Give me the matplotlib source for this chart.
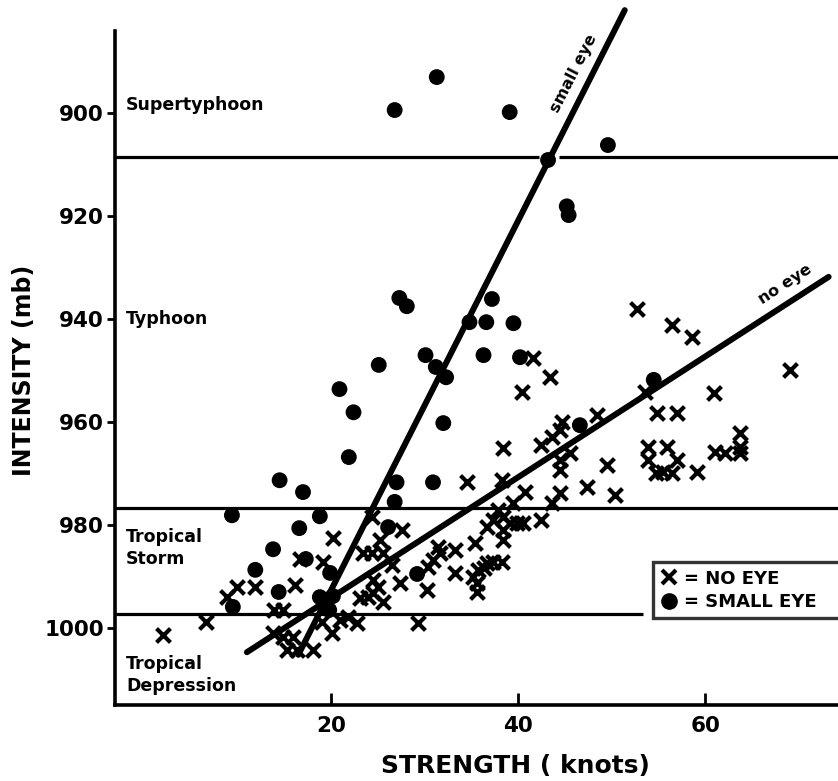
import matplotlib
matplotlib.use("Agg")
import matplotlib.pyplot as plt
from matplotlib.lines import Line2D

# ---------------- data ----------------
small_eye_x = [26.8, 31.3, 39.1, 49.6, 43.2, 45.2, 45.4,
               27.3, 28.1, 37.2, 34.8, 36.6, 39.5,
               30.1, 31.2, 32.3, 36.3, 40.2, 25.1,
               20.9, 22.4, 32.0, 21.9, 27.0, 30.9, 26.8,
               14.5, 17.0, 9.4, 18.8, 16.6, 13.8, 17.3,
               11.9, 19.9, 14.4, 9.5, 26.1, 29.2, 46.6,
               54.5, 18.8, 19.8, 20.2]
small_eye_y = [899.4, 893.0, 899.8, 906.2, 909.1, 918.1, 919.8,
               935.9, 937.5, 936.1, 940.6, 940.6, 940.8,
               947.0, 949.3, 951.3, 947.0, 947.4, 948.9,
               953.6, 958.1, 960.2, 966.8, 971.7, 971.7, 975.5,
               971.3, 973.6, 978.1, 978.3, 980.6, 984.7, 986.6,
               988.7, 989.3, 993.0, 995.9, 980.4, 989.5, 960.6,
               951.8, 994.0, 996.5, 993.8]

no_eye_x = [2.0, 6.6, 9.9, 8.9, 11.9, 16.1, 20.2, 16.7, 19.1, 13.9, 14.9, 13.8,
            14.9, 15.9, 15.3, 16.4, 18.1, 20.1, 19.0, 21.0, 21.8, 22.8,
            24.4, 25.2, 23.4, 24.4, 25.6, 27.6, 26.5, 27.4, 24.5, 25.0, 24.5,
            23.1, 23.9, 25.6, 30.3, 30.4, 30.9, 31.4, 31.7, 33.3, 33.3, 35.4,
            35.2, 35.6, 35.7, 36.3, 36.7, 37.3, 38.3, 35.6,
            36.7, 37.3, 37.8, 38.4, 38.4, 38.4, 34.5, 38.3, 38.4,
            43.4, 40.4, 41.6, 42.4, 44.7, 43.6, 44.5, 45.6, 44.5, 44.5, 48.4,
            49.5, 47.4, 50.4, 40.7, 44.5, 43.6, 39.4, 42.4, 39.1, 39.9, 40.5,
            53.6, 52.7, 56.5, 58.6, 69.1, 60.9, 54.9, 57.0, 53.9, 53.9, 55.9,
            57.0, 54.7, 55.5, 56.5, 59.1, 61.1, 62.1, 63.7, 63.7, 63.7, 29.3]
no_eye_y = [1001.4, 998.8, 992.0, 994.0, 992.0, 991.7, 982.5, 986.6, 987.2, 996.5, 996.5, 1001.0,
            1001.8, 1001.8, 1004.3, 1004.3, 1004.3, 1001.0, 998.8, 998.4, 997.9, 999.0,
            978.4, 982.9, 985.4, 985.4, 985.4, 981.0, 987.8, 991.3, 990.7, 992.0, 993.2,
            994.2, 994.0, 994.9, 992.6, 988.2, 986.8, 984.3, 985.4, 984.9, 989.3, 983.5,
            990.1, 991.3, 988.7, 988.3, 987.4, 987.2, 987.2, 993.0,
            980.4, 979.0, 977.1, 978.4, 981.0, 982.9, 971.7, 971.3, 965.0,
            951.3, 954.2, 947.6, 964.5, 960.0, 962.9, 961.6, 966.0, 967.4, 969.3, 958.6,
            968.4, 972.6, 974.2, 973.6, 973.8, 975.7, 975.7, 979.0, 979.6, 979.6, 979.6,
            954.2, 938.1, 941.2, 943.5, 949.9, 954.4, 958.3, 958.3, 964.9, 967.4, 964.9,
            967.4, 969.9, 969.7, 969.9, 969.7, 965.8, 966.0, 962.1, 964.9, 966.0, 999.0]

# fitted lines (strength, intensity) end points
small_eye_line_x = [16.5, 51.4]
small_eye_line_y = [1005.2, 880.0]
no_eye_line_x = [11.0, 73.2]
no_eye_line_y = [1004.7, 931.8]

# category boundaries (mb)
boundaries = [908.5, 976.7, 997.3]
categories = ["Supertyphoon", "Typhoon", "Tropical\nStorm", "Tropical\nDepression"]
category_y = [898.5, 940.0, 984.5, 1009.1]

yticks = [900, 920, 940, 960, 980, 1000]
xticks = [20, 40, 60]

# ---------------- figure ----------------
plt.rcParams['font.family'] = ['DejaVu Sans']
plt.rcParams['font.weight'] = 'bold'

fig = plt.figure(figsize=(8.38, 7.81), dpi=100)
ax = fig.add_axes([115/838, 76/781, 1 - 115/838, 1 - 76/781 - 5/781])

XMIN, XMAX = -3.1, 74.2
YBOT, YTOP = 1014.95, 879.0
ax.set_xlim(XMIN, XMAX)
ax.set_ylim(YBOT, YTOP)

for s in ['top', 'right']:
    ax.spines[s].set_visible(False)
for s in ['left', 'bottom']:
    ax.spines[s].set_linewidth(2.6)
ax.spines['left'].set_bounds(YBOT, 884.0)

ax.set_yticks(yticks)
ax.set_yticklabels([str(v) for v in yticks], fontsize=15.5, fontweight='bold')
ax.set_xticks(xticks)
ax.set_xticklabels([str(v) for v in xticks], fontsize=15.5, fontweight='bold')
ax.tick_params(axis='y', direction='out', length=6, width=2, pad=2)
ax.tick_params(axis='x', direction='in', length=9, width=2, pad=8)

# category boundary lines
ax.plot([XMIN, 42.2], [boundaries[0]] * 2, color='black', lw=2.3, solid_capstyle='butt')
ax.plot([44.4, XMAX], [boundaries[0]] * 2, color='black', lw=2.3, solid_capstyle='butt')
ax.plot([XMIN, XMAX], [boundaries[1]] * 2, color='black', lw=2.3, solid_capstyle='butt')
ax.plot([XMIN, 53.4], [boundaries[2]] * 2, color='black', lw=2.3, solid_capstyle='butt')

# category labels
for lab, yv in zip(categories, category_y):
    ax.text(-1.9, yv, lab, fontsize=12.5, fontweight='bold', ha='left', va='center',
            linespacing=1.25)

# regression lines
ax.plot(small_eye_line_x, small_eye_line_y, color='black', lw=4.3,
        solid_capstyle='round', clip_on=False)
ax.plot(no_eye_line_x, no_eye_line_y, color='black', lw=4.3, solid_capstyle='round')
ax.text(45.9, 892.2, "small eye", rotation=63, fontsize=11.5, fontweight='bold',
        ha='center', va='center', rotation_mode='anchor')
ax.text(68.6, 933.3, "no eye", rotation=33, fontsize=11.5, fontweight='bold',
        ha='center', va='center', rotation_mode='anchor')

# data points
ax.scatter(no_eye_x, no_eye_y, marker='x', s=100, linewidths=3.0, color='black', zorder=3)
ax.scatter(small_eye_x, small_eye_y, marker='o', s=130, color='black',
           edgecolors='none', zorder=4)

# legend
handles = [Line2D([], [], marker='x', ls='none', color='black', markersize=10,
                  markeredgewidth=3.0),
           Line2D([], [], marker='o', ls='none', color='black', markersize=11)]
leg = ax.legend(handles, ["= NO EYE", "= SMALL EYE"], loc='lower left',
                bbox_to_anchor=(0.744, 0.124, 0.33, 0.082), mode='expand',
                frameon=True, fancybox=False, edgecolor='black', fontsize=13,
                handlelength=1.0, handletextpad=0.3, borderpad=0.4,
                labelspacing=0.3, borderaxespad=0.0)
leg.get_frame().set_linewidth(2.4)
for t in leg.get_texts():
    t.set_fontweight('bold')

# axis titles
fig.text(24/838, 1 - 370/781, "INTENSITY (mb)", rotation=90, fontsize=17,
         fontweight='bold', ha='center', va='center')
fig.text(515/838, 1 - 766/781, "STRENGTH ( knots)", fontsize=18,
         fontweight='bold', ha='center', va='center')

fig.savefig("out.png", dpi=100)
